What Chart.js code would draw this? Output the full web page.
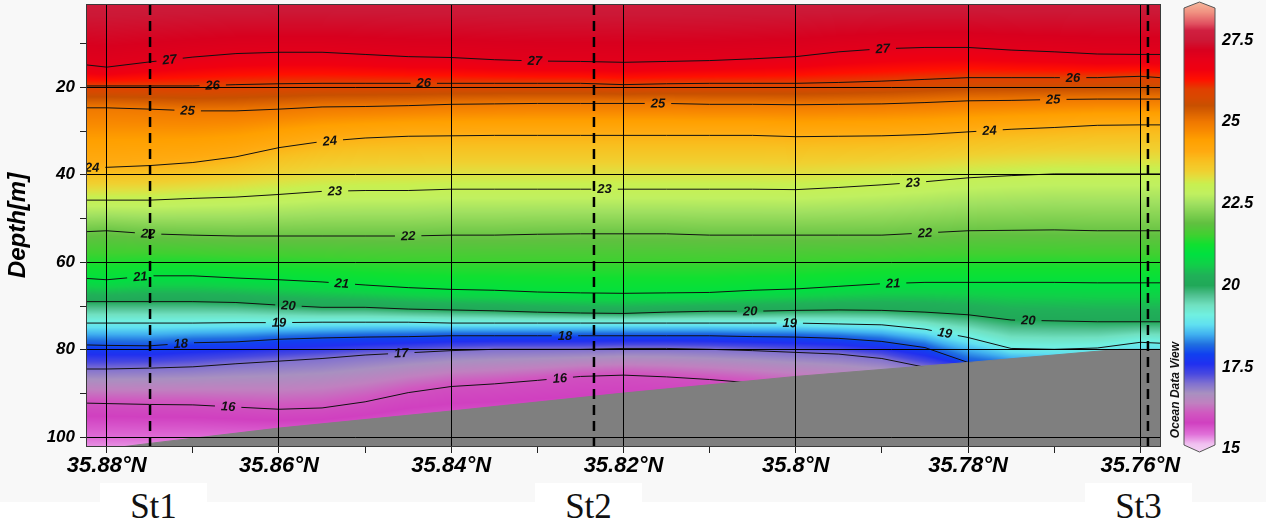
<!DOCTYPE html>
<html>
<head>
<meta charset="utf-8">
<script src="https://cdn.jsdelivr.net/npm/chart.js@4.4.1/dist/chart.umd.min.js"></script>
<style>
  html, body { margin: 0; padding: 0; background: #ffffff; }
  #wrap { position: relative; width: 1266px; height: 528px; overflow: hidden; }
  #bg { position: absolute; left: 0; top: 0; width: 1266px; height: 502px; background: #f8f8f8; }
  #c { position: absolute; left: 0; top: 0; }
  .st { position: absolute; top: 483px; width: 107px; height: 45px; background: #ffffff;
        font-family: "Liberation Serif", "DejaVu Serif", serif; font-size: 35px; line-height: 35px;
        text-align: center; color: #111; box-sizing: border-box; padding-top: 6px; }
</style>
</head>
<body>
<div id="wrap">
  <div id="bg"></div>
  <canvas id="c" width="1266" height="528"></canvas>
</div>
<script>
// ---- section grid (latitude, °N, north to south) ----
const LAT = [35.8823, 35.88, 35.875, 35.87, 35.865, 35.86, 35.855, 35.85, 35.845, 35.84,
             35.835, 35.83, 35.825, 35.82, 35.815, 35.81, 35.805, 35.80, 35.795, 35.79,
             35.785, 35.78, 35.775, 35.77, 35.765, 35.76, 35.7577];

// ---- isotherm depths (m) along LAT ----
const ISO_LEVELS = [27, 26, 25, 24, 23, 22, 21, 20, 19, 18, 17, 16];
const ISO_27 = [14.9, 15.4, 14.2, 13.1, 12.3, 12.0, 12.0, 12.5, 13.0, 13.2, 13.7, 14.0, 14.1, 14.3, 14.1, 13.9, 13.5, 13.0, 11.9, 11.2, 10.9, 10.9, 11.5, 11.9, 12.4, 12.5, 12.5];
const ISO_26 = [19.7, 19.7, 19.7, 19.7, 19.4, 19.2, 19.1, 19.1, 19.1, 19.1, 19.1, 19.1, 19.1, 19.4, 19.2, 19.1, 19.1, 19.1, 18.9, 18.6, 18.2, 17.8, 17.8, 17.8, 17.8, 17.5, 17.8];
const ISO_25 = [24.7, 24.7, 25.0, 25.4, 25.4, 25.0, 24.5, 24.4, 24.2, 23.9, 23.8, 23.7, 23.7, 23.7, 23.7, 23.9, 23.9, 24.0, 23.9, 23.8, 23.5, 23.1, 23.0, 22.8, 22.7, 22.7, 22.7];
const ISO_24 = [38.4, 38.3, 37.9, 37.2, 35.9, 33.8, 32.4, 31.6, 31.2, 31.1, 31.0, 31.0, 31.0, 31.0, 31.0, 31.0, 31.0, 31.3, 31.2, 31.1, 30.8, 30.2, 29.6, 29.2, 28.7, 28.6, 28.6];
const ISO_23 = [45.8, 45.8, 45.8, 45.4, 45.1, 44.5, 43.8, 43.6, 43.6, 43.3, 43.3, 43.3, 43.3, 43.3, 43.3, 43.3, 43.3, 43.4, 42.9, 42.3, 41.6, 40.7, 40.2, 39.8, 39.8, 39.8, 39.8];
const ISO_22 = [53.0, 52.8, 53.5, 53.8, 54.0, 54.0, 54.0, 54.0, 54.0, 53.8, 53.8, 53.6, 53.5, 53.5, 53.5, 53.8, 53.8, 53.8, 53.8, 53.8, 53.3, 52.8, 52.7, 52.6, 52.8, 52.8, 52.8];
const ISO_21 = [63.7, 64.0, 63.1, 63.1, 63.6, 64.0, 64.5, 65.2, 65.8, 66.2, 66.4, 66.8, 67.0, 67.1, 67.0, 66.9, 66.4, 66.1, 65.5, 64.9, 64.6, 64.6, 64.6, 64.6, 64.7, 64.7, 64.7];
const ISO_20 = [69.0, 69.0, 69.0, 69.0, 69.2, 69.8, 70.3, 70.3, 70.7, 70.9, 71.1, 71.4, 71.6, 71.7, 71.4, 71.2, 71.2, 71.0, 70.9, 71.0, 71.4, 72.0, 73.2, 73.4, 73.6, 73.6, 73.6];
const ISO_19 = [73.9, 73.9, 73.9, 73.9, 73.8, 73.8, 73.7, 73.7, 73.7, 73.9, 73.9, 73.9, 73.9, 73.9, 73.9, 73.9, 73.9, 73.9, 74.1, 74.3, 75.3, 77.2, 79.7, 79.9, 79.6, 78.3, 78.5];
const ISO_18 = [78.9, 79.0, 79.1, 78.4, 78.2, 77.6, 77.3, 77.1, 77.0, 76.8, 76.8, 76.8, 76.8, 76.8, 76.8, 76.8, 77.0, 77.1, 77.4, 78.1, 79.5, 82.9, 84.0, 85.0, 86.0, 87.0, 87.0];
const ISO_17 = [84.4, 84.4, 84.2, 83.9, 83.2, 82.6, 82.0, 81.2, 80.7, 80.2, 79.9, 79.9, 79.9, 79.7, 79.7, 79.9, 80.2, 80.6, 81.0, 82.0, 84.0, 85.1, 85.8, 86.9, 87.8, 88.7, 89.2];
const ISO_16 = [92.2, 92.3, 92.5, 92.6, 93.1, 93.6, 93.3, 91.9, 89.8, 88.4, 87.8, 87.0, 86.1, 85.8, 86.2, 86.8, 87.6, 88.5, 89.3, 90.0, 90.8, 91.5, 92.3, 93.0, 93.7, 94.5, 95.0];
const ISO_DEPTHS = [ISO_27, ISO_26, ISO_25, ISO_24, ISO_23, ISO_22, ISO_21, ISO_20, ISO_19, ISO_18, ISO_17, ISO_16];

// water temperature at the surface and just below the deepest sample
const SURFACE_TEMP = 27.65, SURFACE_DEPTH = 0;
const DEEP_TEMP = 15.2, DEEP_DEPTH = 104;

// ---- bottom topography ----
const SEAFLOOR_LAT = [35.8823, 35.875, 35.86, 35.84, 35.82, 35.80, 35.78, 35.7624, 35.7577];
const SEAFLOOR_DEPTH = [103.2, 101.4, 97.9, 94.0, 89.9, 86.1, 82.9, 79.9, 79.9];

// ---- stations ----
const STATIONS = ['St1', 'St2', 'St3'];
const STATION_LAT = [35.87497, 35.82343, 35.75911];

// ---- contour labels (level, latitude of label) ----
const LABEL_LEVEL = [27, 27, 27, 26, 26, 26, 25, 25, 25, 24, 24, 24, 23, 23, 23, 22, 22, 22,
                     21, 21, 21, 20, 20, 20, 19, 19, 19, 18, 18, 17, 16, 16];
const LABEL_LAT = [35.8727, 35.8303, 35.7899, 35.8677, 35.8432, 35.7678, 35.8706, 35.8160, 35.7701,
                   35.8817, 35.8541, 35.7775, 35.8535, 35.8222, 35.7864, 35.8752, 35.8450, 35.7850,
                   35.8761, 35.8527, 35.7887, 35.8589, 35.8053, 35.7730, 35.8600, 35.8007, 35.7827,
                   35.8714, 35.8268, 35.8458, 35.8659, 35.8274];

// ---- axes ----
const LAT_MIN = 35.75771, LAT_MAX = 35.88229;
const DEPTH_MIN = 1.2, DEPTH_MAX = 102;
const LAT_TICKS = [35.88, 35.87, 35.86, 35.85, 35.84, 35.83, 35.82, 35.81, 35.80, 35.79, 35.78, 35.77, 35.76];
const DEPTH_TICKS = [10, 20, 30, 40, 50, 60, 70, 80, 90, 100];
const CB_TICKS = [15, 17.5, 20, 22.5, 25, 27.5];
const CB_MIN = 15.089, CB_MAX = 28.579;

// ---- temperature colour scale ----
const PALETTE = [
  [14.80, '#f6dcf6'], [15.15, '#f0c0f0'], [15.45, '#e070d8'], [15.80, '#d040c0'], [16.10, '#d058c0'],
  [16.40, '#c080c0'], [16.70, '#a890c0'], [17.00, '#8070d0'], [17.30, '#4848e0'], [17.60, '#2030f0'],
  [17.90, '#1040f0'], [18.20, '#2070e0'], [18.50, '#40b0f0'], [18.80, '#60e0f0'], [19.10, '#70f0e0'],
  [19.40, '#70e0c0'], [19.70, '#50c090'], [20.00, '#20a858'], [20.30, '#20b058'], [20.65, '#10d048'],
  [20.95, '#00e040'], [21.25, '#10e030'], [21.55, '#40d030'], [21.90, '#60c040'], [22.20, '#80d050'],
  [22.50, '#a0e060'], [22.80, '#c0f060'], [23.10, '#c8f050'], [23.30, '#e0e040'], [23.50, '#f0d030'],
  [23.80, '#f8c020'], [24.10, '#ffaa10'], [24.45, '#ffa000'], [24.75, '#f88800'], [25.00, '#f07800'],
  [25.20, '#e06800'], [25.50, '#c85000'], [25.75, '#d84800'], [26.00, '#e04000'], [26.30, '#ff1000'],
  [26.60, '#f00010'], [26.90, '#e80018'], [27.20, '#d8001e'], [27.50, '#cc1836'], [27.80, '#d02040'],
  [28.00, '#e05060'], [28.35, '#f09080'], [28.80, '#f8c8a8']
];
const FONT = '"Liberation Sans", Arial, sans-serif';

function hexRgb(h) { return [parseInt(h.slice(1, 3), 16), parseInt(h.slice(3, 5), 16), parseInt(h.slice(5, 7), 16)]; }
const PAL_RGB = PALETTE.map(p => [p[0], hexRgb(p[1])]);
function colorFor(t) {
  if (t <= PAL_RGB[0][0]) return PAL_RGB[0][1];
  for (let i = 1; i < PAL_RGB.length; i++) {
    if (t <= PAL_RGB[i][0]) {
      const a = PAL_RGB[i - 1], b = PAL_RGB[i];
      const f = (t - a[0]) / (b[0] - a[0]);
      return [0, 1, 2].map(k => Math.round(a[1][k] + f * (b[1][k] - a[1][k])));
    }
  }
  return PAL_RGB[PAL_RGB.length - 1][1];
}

function interpLat(arr, lat) {
  if (lat >= LAT[0]) return arr[0];
  for (let i = 1; i < LAT.length; i++) {
    if (lat >= LAT[i]) {
      const f = (LAT[i - 1] - lat) / (LAT[i - 1] - LAT[i]);
      return arr[i - 1] + f * (arr[i] - arr[i - 1]);
    }
  }
  return arr[arr.length - 1];
}

const LEVEL_TEMPS = [SURFACE_TEMP, ...ISO_LEVELS, DEEP_TEMP];
function levelDepthsAt(lat) {
  const d = [SURFACE_DEPTH];
  ISO_DEPTHS.forEach(arr => d.push(interpLat(arr, lat)));
  d.push(DEEP_DEPTH);
  for (let i = 1; i < d.length; i++) if (d[i] < d[i - 1] + 0.05) d[i] = d[i - 1] + 0.05;
  return d;
}
function tempAt(depths, depth) {
  if (depth <= depths[0]) return LEVEL_TEMPS[0];
  for (let i = 1; i < depths.length; i++) {
    if (depth <= depths[i]) {
      const f = (depth - depths[i - 1]) / (depths[i] - depths[i - 1]);
      return LEVEL_TEMPS[i - 1] + f * (LEVEL_TEMPS[i] - LEVEL_TEMPS[i - 1]);
    }
  }
  return LEVEL_TEMPS[LEVEL_TEMPS.length - 1];
}

// interpolated temperature field, rendered pixel by pixel through the chart scales
function buildField(chart) {
  const a = chart.chartArea, xs = chart.scales.x, ys = chart.scales.y;
  const L = Math.round(a.left), T = Math.round(a.top);
  const W = Math.round(a.right) - L, H = Math.round(a.bottom) - T;
  const cv = document.createElement('canvas');
  cv.width = W; cv.height = H;
  const c = cv.getContext('2d');
  const img = c.createImageData(W, H);
  const rowDepth = [];
  for (let j = 0; j < H; j++) rowDepth.push(ys.getValueForPixel(T + j + 0.5));
  for (let i = 0; i < W; i++) {
    const d = levelDepthsAt(xs.getValueForPixel(L + i + 0.5));
    for (let j = 0; j < H; j++) {
      const rgb = colorFor(tempAt(d, rowDepth[j]));
      const k = (j * W + i) * 4;
      img.data[k] = rgb[0]; img.data[k + 1] = rgb[1]; img.data[k + 2] = rgb[2]; img.data[k + 3] = 255;
    }
  }
  c.putImageData(img, 0, 0);
  return { cv, L, T, W, H };
}

function drawContourLabels(chart) {
  const ctx = chart.ctx, xs = chart.scales.x, ys = chart.scales.y, a = chart.chartArea;
  const field = chart.$field;
  ctx.save();
  ctx.beginPath();
  ctx.rect(a.left, a.top, a.right - a.left, a.bottom - a.top);
  ctx.clip();
  ctx.font = 'italic bold 13px ' + FONT;
  ctx.textAlign = 'center';
  ctx.textBaseline = 'middle';
  LABEL_LEVEL.forEach((lev, k) => {
    const arr = ISO_DEPTHS[ISO_LEVELS.indexOf(lev)];
    const lat = LABEL_LAT[k];
    const px = xs.getPixelForValue(lat), py = ys.getPixelForValue(interpLat(arr, lat));
    const xa = xs.getPixelForValue(lat + 0.002), xb = xs.getPixelForValue(lat - 0.002);
    const ya = ys.getPixelForValue(interpLat(arr, lat + 0.002)), yb = ys.getPixelForValue(interpLat(arr, lat - 0.002));
    const ang = Math.atan2(yb - ya, xb - xa);
    const text = String(lev);
    const w = ctx.measureText(text).width + 12;
    // break the isoline under the label
    ctx.save();
    ctx.translate(px, py); ctx.rotate(ang);
    ctx.beginPath(); ctx.rect(-w / 2, -4, w, 8);
    ctx.rotate(-ang); ctx.translate(-px, -py);
    ctx.clip();
    ctx.drawImage(field.cv, field.L, field.T);
    ctx.restore();
    ctx.save();
    ctx.translate(px, py); ctx.rotate(ang);
    ctx.fillStyle = '#111';
    ctx.fillText(text, 0, 0.5);
    ctx.restore();
  });
  ctx.restore();
}

function drawColorbar(chart) {
  const ctx = chart.ctx, cb = chart.scales.cb;
  const x0 = cb.left + 24, x1 = cb.left + 55, xc = (x0 + x1) / 2;
  const yTip = 2, yTop = 8, yBot = 445, yTipB = 452;
  ctx.save();
  ctx.beginPath();
  ctx.moveTo(x0, yTop); ctx.lineTo(xc, yTip); ctx.lineTo(x1, yTop);
  ctx.lineTo(x1, yBot); ctx.lineTo(xc, yTipB); ctx.lineTo(x0, yBot); ctx.closePath();
  ctx.save();
  ctx.clip();
  for (let y = yTip; y < yTipB; y++) {
    const rgb = colorFor(cb.getValueForPixel(y + 0.5));
    ctx.fillStyle = 'rgb(' + rgb.join(',') + ')';
    ctx.fillRect(x0, y, x1 - x0, 1);
  }
  ctx.restore();
  ctx.strokeStyle = '#555';
  ctx.lineWidth = 1;
  ctx.stroke();
  // vertical credit text beside the colour bar
  ctx.translate(cb.left + 16, 390);
  ctx.rotate(-Math.PI / 2);
  ctx.font = 'italic bold 12px ' + FONT;
  ctx.fillStyle = '#111';
  ctx.textAlign = 'center';
  ctx.textBaseline = 'middle';
  ctx.fillText('Ocean Data View', 0, 0);
  ctx.restore();
}

const sectionPlugin = {
  id: 'section',
  beforeDraw(chart) {
    chart.$field = buildField(chart);
    chart.$labelsDone = false;
    const f = chart.$field;
    chart.ctx.drawImage(f.cv, f.L, f.T);
  },
  afterDatasetDraw(chart, args) {
    const ds = chart.data.datasets[args.index];
    if (ds.label === 'seafloor' && !chart.$labelsDone) {
      drawContourLabels(chart);
      chart.$labelsDone = true;
    }
  },
  afterDraw(chart) {
    const ctx = chart.ctx, a = chart.chartArea;
    ctx.save();
    ctx.strokeStyle = '#3a3a3a';
    ctx.lineWidth = 1;
    ctx.strokeRect(Math.round(a.left) - 0.5, Math.round(a.top) - 0.5,
                   Math.round(a.right) - Math.round(a.left) + 1, Math.round(a.bottom) - Math.round(a.top) + 1);
    ctx.restore();
    drawColorbar(chart);
  }
};

const isMajorLat = v => Math.abs(v * 50 - Math.round(v * 50)) < 1e-6;
const isMajorDepth = v => Math.round(v) % 20 === 0;

const datasets = [];
STATIONS.forEach((name, i) => {
  datasets.push({
    label: name,
    data: [{ x: STATION_LAT[i], y: DEPTH_MIN }, { x: STATION_LAT[i], y: DEPTH_MAX }],
    showLine: true, borderColor: '#000', borderWidth: 2.5, borderDash: [10, 6],
    pointRadius: 0, fill: false
  });
});
datasets.push({
  label: 'seafloor',
  data: SEAFLOOR_LAT.map((lat, i) => ({ x: lat, y: SEAFLOOR_DEPTH[i] })),
  showLine: true, borderColor: '#7f7f7f', borderWidth: 1, backgroundColor: '#7f7f7f',
  pointRadius: 0, fill: { value: DEPTH_MAX + 5 }
});
ISO_LEVELS.forEach((lev, k) => {
  datasets.push({
    label: String(lev),
    data: LAT.map((lat, i) => ({ x: lat, y: ISO_DEPTHS[k][i] })),
    showLine: true, borderColor: '#111', borderWidth: 1, pointRadius: 0, fill: false, tension: 0
  });
});

const tickFont = size => ({ family: FONT, size, style: 'italic', weight: 'bold' });
// vertical axes: keep the plot frame fixed regardless of label overhang
const fixVertical = width => s => { s.width = width; s.paddingTop = 0; s.paddingBottom = 0; };

new Chart(document.getElementById('c'), {
  type: 'scatter',
  data: { datasets },
  plugins: [sectionPlugin],
  options: {
    responsive: false,
    devicePixelRatio: 1,
    animation: false,
    events: [],
    layout: { padding: { top: 5, left: 0, right: 0, bottom: 0 } },
    plugins: { legend: { display: false }, tooltip: { enabled: false } },
    scales: {
      x: {
        type: 'linear', position: 'bottom', reverse: true, min: LAT_MIN, max: LAT_MAX,
        afterBuildTicks: s => { s.ticks = LAT_TICKS.map(v => ({ value: v })); },
        afterFit: s => { s.height = 82; },
        ticks: {
          autoSkip: false, maxRotation: 0, padding: 0, color: '#000', font: tickFont(22),
          callback: v => isMajorLat(v) ? parseFloat(v.toFixed(2)) + '°N' : ''
        },
        grid: {
          z: 1, lineWidth: 1, tickLength: 7, tickColor: '#222',
          color: c => (c.tick && isMajorLat(c.tick.value)) ? '#000' : 'rgba(0,0,0,0)'
        },
        border: { display: false }
      },
      y: {
        type: 'linear', position: 'left', reverse: true, min: DEPTH_MIN, max: DEPTH_MAX,
        afterBuildTicks: s => { s.ticks = DEPTH_TICKS.map(v => ({ value: v })); },
        afterFit: fixVertical(87),
        ticks: {
          autoSkip: false, padding: 5, color: '#000', font: tickFont(17),
          callback: v => isMajorDepth(v) ? String(v) : ''
        },
        grid: {
          z: 1, lineWidth: 1, tickLength: 7, tickColor: '#222',
          color: c => (c.tick && isMajorDepth(c.tick.value)) ? '#000' : 'rgba(0,0,0,0)'
        },
        border: { display: false },
        title: {
          display: true, text: 'Depth[m]', color: '#000',
          font: { family: FONT, size: 24, style: 'italic', weight: 'bold' },
          padding: { top: 4, bottom: 0 }
        }
      },
      cb: {
        type: 'linear', position: 'right', min: CB_MIN, max: CB_MAX,
        afterBuildTicks: s => { s.ticks = CB_TICKS.map(v => ({ value: v })); },
        afterFit: fixVertical(106),
        ticks: { autoSkip: false, padding: 0, color: '#000', font: tickFont(16), callback: v => String(v) },
        grid: { display: false, drawTicks: true, tickLength: 62 },
        border: { display: false }
      }
    }
  }
});

// station names under the section
const STATION_BOX_LEFT = [100, 535, 1085];
STATIONS.forEach((name, i) => {
  const d = document.createElement('div');
  d.className = 'st';
  d.style.left = STATION_BOX_LEFT[i] + 'px';
  d.textContent = name;
  document.getElementById('wrap').appendChild(d);
});
</script>
</body>
</html>
